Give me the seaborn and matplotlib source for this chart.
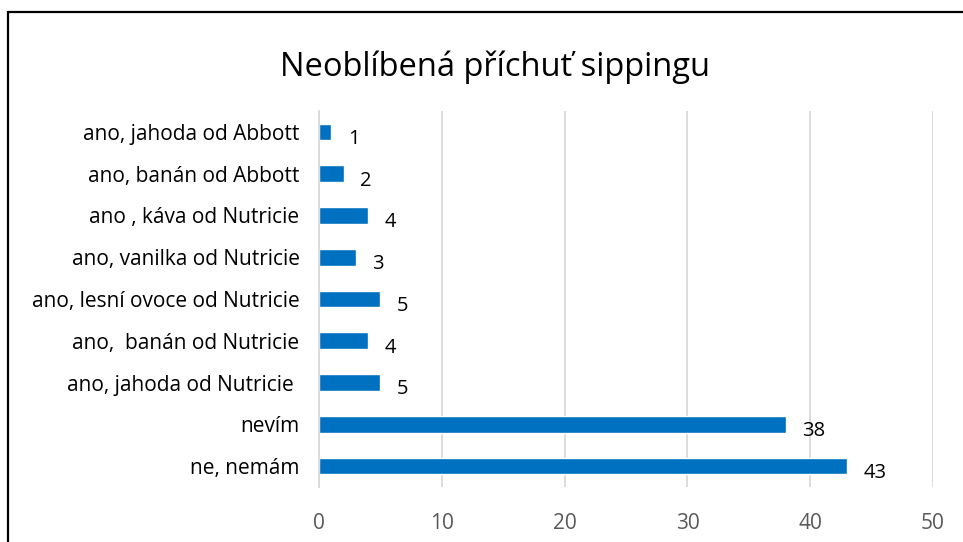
import pandas as pd
import seaborn as sns
import matplotlib.pyplot as plt
from matplotlib.lines import Line2D

categories = ['ano, jahoda od Abbott', 'ano, banán od Abbott', 'ano , káva od Nutricie',
              'ano, vanilka od Nutricie', 'ano, lesní ovoce od Nutricie', 'ano,  banán od Nutricie',
              'ano, jahoda od Nutricie ', 'nevím', 'ne, nemám']
counts = [1, 2, 4, 3, 5, 4, 5, 38, 43]
x_ticks = [0, 10, 20, 30, 40, 50]

df = pd.DataFrame({'kategorie': categories, 'pocet': counts})

sns.set_style('white')
plt.rcParams['font.family'] = ['Open Sans', 'DejaVu Sans']

fig = plt.figure(figsize=(9.63, 5.42), dpi=100)
ax = fig.add_axes([0.3313, 0.1015, 0.6376, 0.6937])

sns.barplot(data=df, x='pocet', y='kategorie', orient='h', color='#0070C0',
            saturation=1, width=0.4, ax=ax)

for i, v in enumerate(counts):
    ax.annotate(str(v), xy=(v, i), xytext=(12, -5), textcoords='offset points',
                ha='left', va='center', fontsize=14.5, color='#000000')

ax.set_xlim(0, 50)
ax.set_xticks(x_ticks)
ax.set_ylim(len(categories) - 0.5, -0.5)
ax.grid(axis='x', color='#d9d9d9', linewidth=1.3)
ax.set_axisbelow(True)
for side in ['top', 'right', 'bottom']:
    ax.spines[side].set_visible(False)
ax.spines['left'].set_color('#d9d9d9')
ax.spines['left'].set_linewidth(1.3)
ax.tick_params(axis='both', length=0)
ax.tick_params(axis='x', labelsize=15, labelcolor='#595959', pad=19)
ax.tick_params(axis='y', labelsize=15, labelcolor='#000000', pad=14)
ax.set_xlabel('')
ax.set_ylabel('')

fig.text(0.514, 0.876, 'Neoblíbená příchuť sippingu', ha='center', va='center',
         fontsize=23.5, color='#000000')

# chart border, cut at right and bottom like the screenshot
fig.add_artist(Line2D([0.0083, 0.0083], [-0.1, 0.978], transform=fig.transFigure,
                      color='black', linewidth=1.6))
fig.add_artist(Line2D([0.0083, 1.1], [0.978, 0.978], transform=fig.transFigure,
                      color='black', linewidth=1.6))

fig.savefig('out.png', dpi=100, facecolor='white')
